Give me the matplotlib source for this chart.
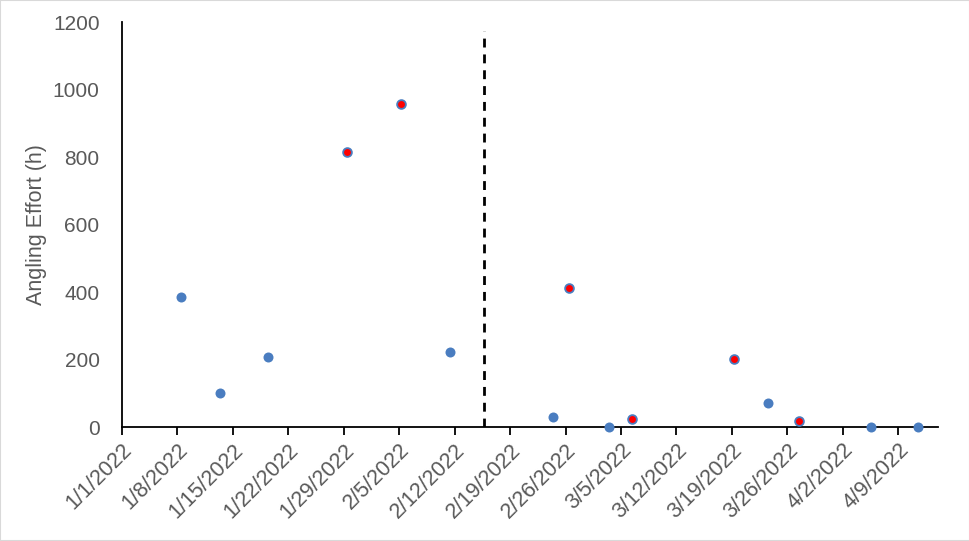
import matplotlib
matplotlib.use("Agg")
import matplotlib.pyplot as plt
import matplotlib.dates as mdates
import pandas as pd
from matplotlib.patches import Rectangle

plt.rcParams['font.family'] = ['Liberation Sans', 'DejaVu Sans']

dates = pd.to_datetime([
    "2022-01-08 11:00", "2022-01-13 10:00", "2022-01-19 11:00", "2022-01-29 11:00",
    "2022-02-05 07:00", "2022-02-11 10:00", "2022-02-24 10:00", "2022-02-26 10:00",
    "2022-03-03 11:00", "2022-03-06 10:00", "2022-03-19 07:00", "2022-03-23 12:00",
    "2022-03-27 10:00", "2022-04-05 12:00", "2022-04-11 11:00",
])
effort = [384, 100, 207, 815, 956, 223, 31, 412, 0, 23, 201, 70, 19, 0, 0]
highlight = [False, False, False, True, True, False, False, True,
             False, True, True, False, True, False, False]

divider_date = pd.Timestamp("2022-02-15 17:00")
divider_top = 1172

x_start = pd.Timestamp("2022-01-01")
x_end = pd.Timestamp("2022-04-14")
tick_dates = pd.date_range("2022-01-01", "2022-04-09", freq="7D")
tick_labels = [f"{d.month}/{d.day}/{d.year}" for d in tick_dates]

blue = "#4A7DC0"
gray = "#595959"

fig = plt.figure(figsize=(9.7, 5.41), dpi=100)
fig.patches.append(Rectangle((0, 0), 1, 1, transform=fig.transFigure,
                             fill=False, edgecolor="#D9D9D9", linewidth=1.5))
ax = fig.add_axes([0.1255, 0.2107, 0.967 - 0.1255, 0.9593 - 0.2107])

norm_x = [d for d, h in zip(dates, highlight) if not h]
norm_y = [v for v, h in zip(effort, highlight) if not h]
hi_x = [d for d, h in zip(dates, highlight) if h]
hi_y = [v for v, h in zip(effort, highlight) if h]

ax.plot(norm_x, norm_y, linestyle="none", marker="o", markersize=7.2,
        markerfacecolor=blue, markeredgecolor=blue, markeredgewidth=0, clip_on=False, zorder=3)
ax.plot(hi_x, hi_y, linestyle="none", marker="o", markersize=6.3,
        markerfacecolor="#FF0000", markeredgecolor=blue, markeredgewidth=1.3, clip_on=False, zorder=3)

ax.plot([divider_date, divider_date], [0, divider_top], color="black",
        linewidth=2, linestyle=(0, (3.2, 2.5)), zorder=2)

ax.set_xlim(x_start, x_end)
ax.set_ylim(0, 1200)
ax.set_xticks(tick_dates)
ax.set_xticklabels(tick_labels, rotation=45, ha="right", rotation_mode="anchor",
                   color=gray, fontsize=15.5)
ax.set_yticks(range(0, 1201, 200))
ax.tick_params(axis="y", length=0, pad=16, labelcolor=gray, labelsize=15)
ax.tick_params(axis="x", length=6, width=1.3, direction="out", pad=3)
ax.set_ylabel("Angling Effort (h)", color=gray, fontsize=15.5, labelpad=4)

for s in ["top", "right"]:
    ax.spines[s].set_visible(False)
for s in ["left", "bottom"]:
    ax.spines[s].set_linewidth(1.3)
    ax.spines[s].set_color("black")

fig.savefig("out.png", dpi=100)
